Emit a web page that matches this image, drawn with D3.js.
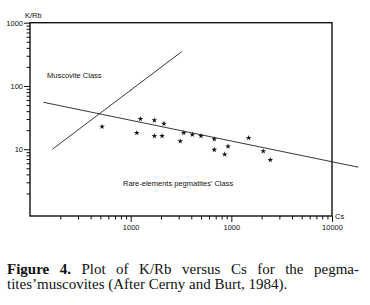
<!DOCTYPE html>
<html>
<head>
<meta charset="utf-8">
<script src="https://cdn.jsdelivr.net/npm/d3@7"></script>
<style>
  body { margin: 0; background: #fff; }
  svg { display: block; }
  .axis text { font-family: "Liberation Sans", Arial, sans-serif; font-size: 7.5px; fill: #111; }
  .axis line { stroke: #111; }
  .label { font-family: "Liberation Sans", Arial, sans-serif; font-size: 7.5px; fill: #111; }
  .caption { font-family: "Liberation Serif", "Times New Roman", serif; font-size: 15px; fill: #111; }
</style>
</head>
<body>
<svg id="chart"></svg>
<script>
// Cs (ppm) and K/Rb of the pegmatite muscovites
const csValues  = [52, 125, 172, 214, 115, 172, 205, 336, 410, 500, 311, 677, 677, 927, 859, 1487, 2077, 2438];
const kRbValues = [22.7, 30.1, 28.7, 25.3, 18.1, 16.2, 16.2, 18.1, 17.0, 16.2, 13.4, 14.4, 9.8, 11.1, 8.3, 15.1, 9.3, 6.8];

// boundary lines (Cerny and Burt, 1984)
const classDivider = [{cs: 16.7, kRb: 10}, {cs: 321, kRb: 348}];
const trendLine    = [{cs: 13.6, kRb: 55.2}, {cs: 18250, kRb: 5.2}];

const xTicks      = [100, 1000, 10000];
const xTickLabels = ['1000', '1000', '10000'];
const yTicks      = [10, 100, 1000];
const yTickLabels = ['10', '100', '1000'];

const captionLine1 = [['Figure', true], ['4.', true], ['Plot', false], ['of', false], ['K/Rb', false],
                      ['versus', false], ['Cs', false], ['for', false], ['the', false], ['pegma-', false]];
const captionLine2 = 'tites\u2019muscovites (After Cerny and Burt, 1984).';

class KRbPlot {
    constructor(_config) {
        this.config = {
            parentElement: _config.parentElement,
            width: 370,
            height: 305,
            left: 30, right: 332, top: 22.7, bottom: 216
        };
        this.initVis();
    }

    initVis() {
        let vis = this;
        const c = vis.config;

        vis.svg = d3.select(c.parentElement)
            .attr('width', c.width)
            .attr('height', c.height);

        vis.xScale = d3.scaleLog().domain([10, 10000]).range([c.left, c.right]);
        vis.yScale = d3.scaleLog().domain([0.88, 1000]).range([c.bottom, c.top]);

        vis.chart = vis.svg.append('g');
        vis.renderVis();
    }

    renderVis() {
        let vis = this;
        const c = vis.config;

        // minor ticks
        const xMinor = [];
        [10, 100, 1000].forEach(d => { for (let k = 2; k <= 9; k++) xMinor.push(d * k); });
        const yMinor = [];
        [1, 10, 100].forEach(d => { for (let k = 2; k <= 9; k++) yMinor.push(d * k); });

        vis.chart.append('g')
            .attr('class', 'axis')
            .attr('transform', `translate(0,${c.bottom})`)
            .call(d3.axisBottom(vis.xScale).tickValues(xMinor).tickSize(3.5).tickFormat(''))
            .call(g => g.select('.domain').remove());

        vis.chart.append('g')
            .attr('class', 'axis')
            .attr('transform', `translate(0,${c.bottom})`)
            .call(d3.axisBottom(vis.xScale).tickValues(xTicks).tickSize(6).tickPadding(3)
                .tickFormat((d, i) => xTickLabels[i]))
            .call(g => g.select('.domain').remove());

        vis.chart.append('g')
            .attr('class', 'axis')
            .attr('transform', `translate(${c.left},0)`)
            .call(d3.axisLeft(vis.yScale).tickValues(yMinor).tickSize(3.5).tickFormat(''))
            .call(g => g.select('.domain').remove());

        vis.chart.append('g')
            .attr('class', 'axis')
            .attr('transform', `translate(${c.left},0)`)
            .call(d3.axisLeft(vis.yScale).tickValues(yTicks).tickSize(6).tickPadding(1)
                .tickFormat((d, i) => yTickLabels[i]))
            .call(g => g.select('.domain').remove());

        // frame
        vis.chart.append('rect')
            .attr('x', c.left).attr('y', c.top)
            .attr('width', c.right - c.left).attr('height', c.bottom - c.top)
            .attr('fill', 'none').attr('stroke', '#111').attr('stroke-width', 1.4);

        const line = d3.line()
            .x(d => vis.xScale(d.cs))
            .y(d => vis.yScale(d.kRb));

        vis.chart.selectAll('.boundary')
            .data([classDivider, trendLine])
            .join('path')
            .attr('class', 'boundary')
            .attr('d', line)
            .attr('fill', 'none')
            .attr('stroke', '#222')
            .attr('stroke-width', 0.9);

        const star = d3.symbol().type(d3.symbolStar).size(10);
        vis.chart.selectAll('.pt')
            .data(csValues.map((d, i) => ({cs: d, kRb: kRbValues[i]})))
            .join('path')
            .attr('class', 'pt')
            .attr('d', star)
            .attr('transform', d => `translate(${vis.xScale(d.cs)},${vis.yScale(d.kRb)})`)
            .attr('fill', '#111');

        // labels
        vis.chart.append('text').attr('class', 'label')
            .attr('x', 25).attr('y', 17.5).text('K/Rb');
        vis.chart.append('text').attr('class', 'label')
            .attr('x', 335).attr('y', 219).text('Cs');
        vis.chart.append('text').attr('class', 'label')
            .attr('x', 47).attr('y', 78).text('Muscovite Class');
        vis.chart.append('text').attr('class', 'label')
            .attr('x', 123).attr('y', 185.5).text('Rare-elements pegmatites\u2019 Class');

        // caption, first line justified
        const capX0 = 7, capX1 = 359;
        const words = captionLine1.map(([w, bold]) =>
            vis.svg.append('text').attr('class', 'caption')
                .attr('y', 274)
                .style('font-weight', bold ? 'bold' : 'normal')
                .text(w));
        const widths = words.map(t => t.node().getComputedTextLength());
        const gap = (capX1 - capX0 - d3.sum(widths)) / (words.length - 1);
        let x = capX0;
        words.forEach((t, i) => { t.attr('x', x); x += widths[i] + gap; });

        vis.svg.append('text').attr('class', 'caption')
            .attr('x', capX0).attr('y', 288.5)
            .text(captionLine2);
    }
}

new KRbPlot({parentElement: '#chart'});
</script>
</body>
</html>
